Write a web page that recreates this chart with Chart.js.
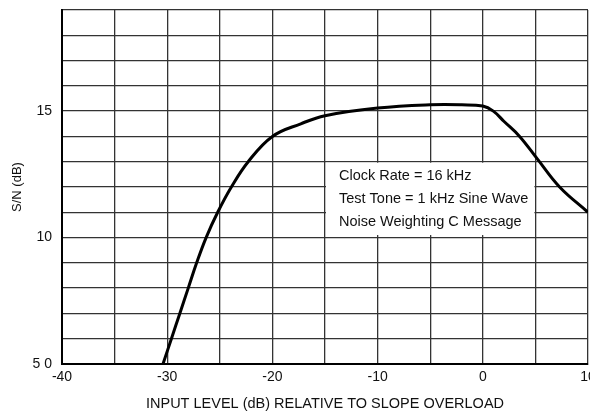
<!DOCTYPE html>
<html>
<head>
<meta charset="utf-8">
<script src="https://cdn.jsdelivr.net/npm/chart.js@4/dist/chart.umd.min.js"></script>
<style>
  html, body { margin: 0; padding: 0; background: #fff; overflow: hidden; }
  #wrap { width: 590px; height: 413px; }
</style>
</head>
<body>
<div id="wrap"><canvas id="snChart" width="590" height="413"></canvas></div>
<script>
// Input level (dB relative to slope overload) and S/N (dB)
const inputLevel = [-30.4, -29.6, -28.8, -28.0, -27.2, -26.3, -25.2, -23.9, -22.3, -20.0, -17.3, -15.0, -10.0, -5.0, -2.0, 0.0, 1.0, 2.0, 3.5, 5.2, 7.3, 10.0];
const snRatio = [5, 6, 7, 8, 9, 10, 11, 12, 13, 14, 14.5, 14.82, 15.12, 15.25, 15.25, 15.2, 15.0, 14.6, 14.0, 13.1, 12.0, 11.0];

// Tick labels that are printed on the axes
const xTickLabels = { '-40': '-40', '-30': '-30', '-20': '-20', '-10': '-10', '0': '0', '10': '10' };
const yTickLabels = { '5': '5 0', '10': '10', '15': '15' };

const noteLines = ['Clock Rate = 16 kHz', 'Test Tone = 1 kHz Sine Wave', 'Noise Weighting C Message'];

const FONT = '"Liberation Sans", Arial, sans-serif';

// white box with the test conditions, sits on top of the grid
const notePlugin = {
    id: 'noteBox',
    beforeDatasetsDraw(chart) {
        const ctx = chart.ctx;
        const xs = chart.scales.x, ys = chart.scales.y;
        const left = xs.getPixelForValue(-15) + 1;
        const right = xs.getPixelForValue(5) - 1;
        const top = ys.getPixelForValue(13) + 1;
        const bottom = ys.getPixelForValue(10.1);
        ctx.save();
        ctx.fillStyle = '#fff';
        ctx.fillRect(left, top, right - left, bottom - top);
        ctx.fillStyle = '#111';
        ctx.font = '14.5px ' + FONT;
        ctx.textBaseline = 'middle';
        noteLines.forEach((t, i) => {
            ctx.fillText(t, left + 13, top + 13 + i * 23);
        });
        ctx.restore();
    }
};

const config = {
    type: 'line',
    data: {
        datasets: [{
            data: inputLevel.map((x, i) => ({ x: x, y: snRatio[i] })),
            borderColor: '#000',
            borderWidth: 3,
            pointRadius: 0,
            fill: false,
            tension: 0.4
        }]
    },
    options: {
        responsive: false,
        animation: false,
        layout: { padding: { top: 10, left: 10, right: 2, bottom: 0 } },
        plugins: {
            legend: { display: false },
            tooltip: { enabled: false }
        },
        scales: {
            x: {
                type: 'linear',
                min: -40,
                max: 10,
                afterFit(scale) {
                    scale.height = 49;
                    scale.paddingLeft = 0;
                    scale.paddingRight = 0;
                },
                border: { color: '#000', width: 2 },
                grid: { color: '#333', lineWidth: 1.3, drawTicks: false },
                ticks: {
                    stepSize: 5,
                    autoSkip: false,
                    maxRotation: 0,
                    padding: 5,
                    color: '#111',
                    font: { family: FONT, size: 14 },
                    callback: (v) => xTickLabels[String(v)] || ''
                },
                title: {
                    display: true,
                    text: 'INPUT LEVEL (dB) RELATIVE TO SLOPE OVERLOAD',
                    color: '#111',
                    font: { family: FONT, size: 14.5 },
                    padding: { top: 4, bottom: 0 }
                }
            },
            y: {
                min: 5,
                max: 19,
                afterFit(scale) {
                    scale.width = 52;
                    scale.paddingTop = 0;
                    scale.paddingBottom = 0;
                },
                border: { color: '#000', width: 2 },
                grid: { color: '#333', lineWidth: 1.3, drawTicks: false },
                ticks: {
                    stepSize: 1,
                    autoSkip: false,
                    padding: 10,
                    color: '#111',
                    font: { family: FONT, size: 14 },
                    callback: (v) => yTickLabels[String(v)] || ''
                },
                title: {
                    display: true,
                    text: 'S/N (dB)',
                    color: '#111',
                    font: { family: FONT, size: 13 },
                    padding: { top: 0, bottom: 0 }
                }
            }
        }
    },
    plugins: [notePlugin]
};

window.onload = function() {
    const ctx = document.getElementById('snChart').getContext('2d');
    new Chart(ctx, config);
};
</script>
</body>
</html>
